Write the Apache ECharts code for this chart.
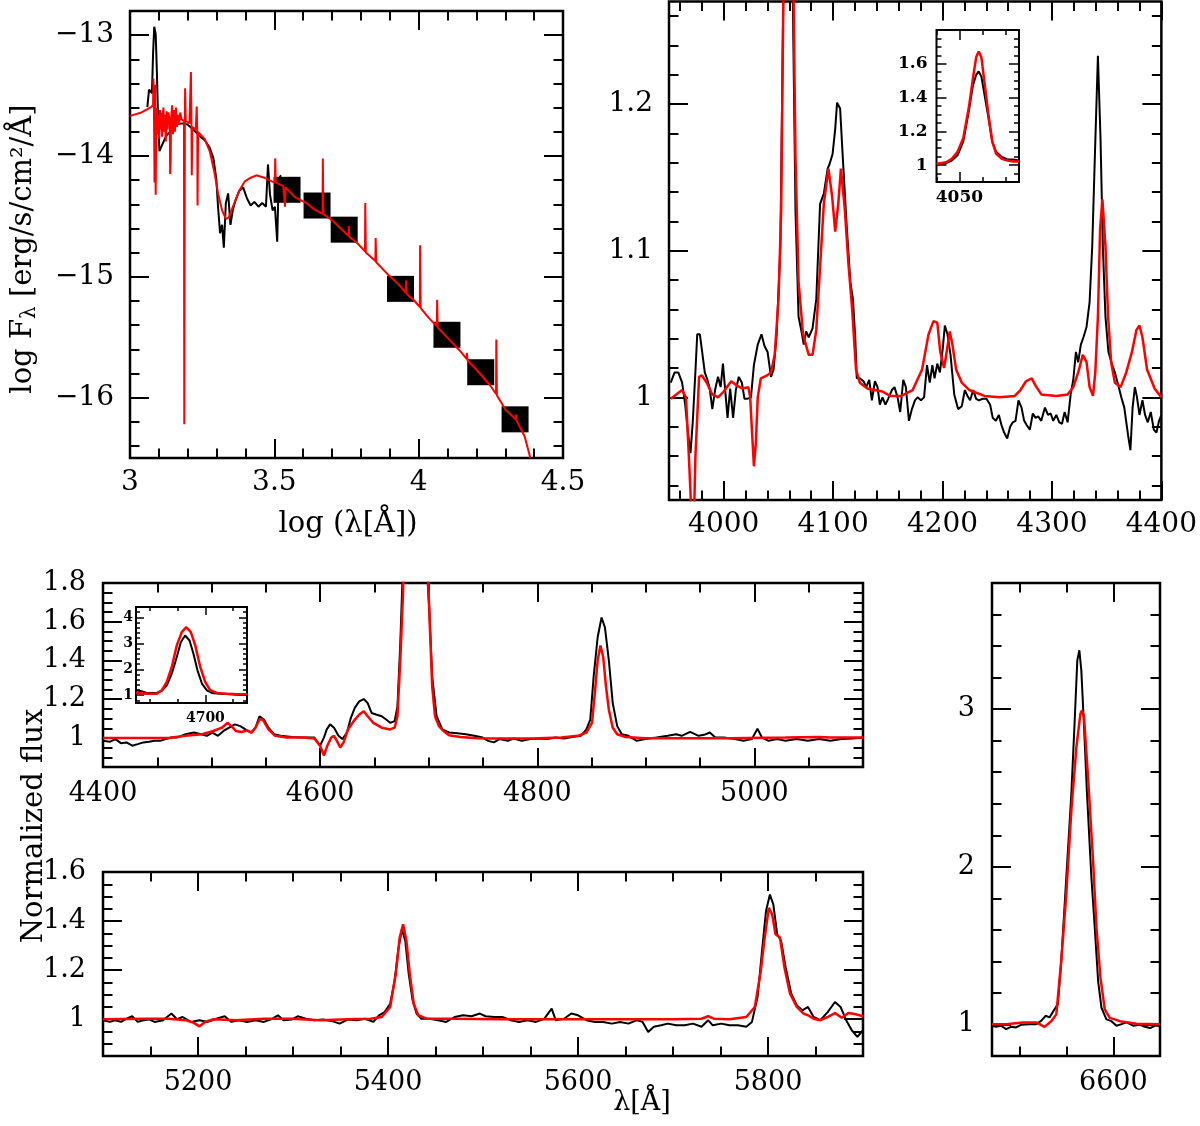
<!DOCTYPE html>
<html>
<head>
<meta charset="utf-8">
<title>SED and normalized spectra</title>
<script src="https://cdn.jsdelivr.net/npm/echarts@6/dist/echarts.min.js"></script>
<style>
  html, body { margin: 0; padding: 0; background: #fff; }
  #chart { width: 1200px; height: 1126px; }
</style>
</head>
<body>
<div id="chart"></div>
<script>
/* ---------- data ---------- */

// SED panel: log(lambda) vs log F
var sedObs = [[3.060,-13.595],[3.066,-13.45],[3.076,-13.48],[3.080,-13.145],[3.084,-12.93],[3.089,-12.99],[3.093,-13.29],[3.097,-13.67],[3.102,-13.96],[3.113,-13.90],[3.126,-13.83],[3.139,-13.80],[3.159,-13.74],[3.179,-13.73],[3.199,-13.74],[3.219,-13.78],[3.239,-13.83],[3.259,-13.87],[3.276,-13.93],[3.289,-14.02],[3.299,-14.19],[3.305,-14.42],[3.312,-14.64],[3.319,-14.57],[3.325,-14.76],[3.332,-14.39],[3.340,-14.31],[3.348,-14.57],[3.356,-14.45],[3.365,-14.37],[3.378,-14.29],[3.392,-14.26],[3.405,-14.35],[3.418,-14.41],[3.431,-14.38],[3.445,-14.42],[3.458,-14.39],[3.471,-14.42],[3.478,-14.07],[3.485,-14.32],[3.494,-14.45],[3.502,-14.42],[3.510,-14.71],[3.515,-14.19],[3.523,-14.16]];
var sedModel = [[3.000,-13.668],[3.040,-13.64],[3.073,-13.595],[3.080,-13.58],[3.081,-13.36],[3.083,-13.62],[3.085,-14.22],[3.087,-13.41],[3.089,-14.32],[3.091,-13.70],[3.094,-13.60],[3.096,-13.82],[3.099,-13.66],[3.101,-13.86],[3.104,-13.62],[3.106,-13.78],[3.109,-13.64],[3.111,-13.84],[3.113,-13.67],[3.116,-13.60],[3.118,-13.80],[3.121,-13.66],[3.124,-13.88],[3.127,-13.63],[3.130,-13.78],[3.133,-13.64],[3.138,-13.72],[3.139,-14.15],[3.141,-14.03],[3.142,-13.70],[3.146,-13.58],[3.149,-13.82],[3.153,-13.62],[3.156,-13.80],[3.159,-13.60],[3.163,-13.76],[3.166,-13.66],[3.170,-13.74],[3.174,-13.64],[3.179,-13.70],[3.187,-13.71],[3.188,-16.22],[3.190,-13.72],[3.191,-13.44],[3.193,-13.71],[3.206,-13.73],[3.210,-13.74],[3.211,-13.305],[3.213,-13.75],[3.214,-14.16],[3.216,-13.76],[3.228,-13.78],[3.231,-13.59],[3.233,-13.79],[3.234,-14.41],[3.236,-13.80],[3.259,-13.86],[3.276,-13.96],[3.292,-14.13],[3.305,-14.31],[3.319,-14.45],[3.332,-14.52],[3.342,-14.51],[3.358,-14.41],[3.378,-14.29],[3.398,-14.21],[3.418,-14.18],[3.438,-14.16],[3.465,-14.18],[3.491,-14.21],[3.502,-14.22],[3.503,-14.02],[3.505,-14.22],[3.531,-14.25],[3.536,-14.26],[3.537,-14.42],[3.539,-14.26],[3.571,-14.34],[3.611,-14.39],[3.637,-14.44],[3.667,-14.48],[3.668,-14.02],[3.670,-14.48],[3.704,-14.54],[3.743,-14.63],[3.757,-14.66],[3.758,-14.58],[3.760,-14.67],[3.783,-14.71],[3.814,-14.79],[3.815,-14.39],[3.817,-14.80],[3.850,-14.87],[3.851,-14.68],[3.853,-14.88],[3.889,-14.97],[3.929,-15.06],[3.955,-15.13],[3.956,-15.03],[3.958,-15.14],[3.982,-15.19],[4.004,-15.25],[4.005,-14.74],[4.007,-15.26],[4.035,-15.34],[4.063,-15.41],[4.064,-15.19],[4.066,-15.42],[4.102,-15.51],[4.142,-15.61],[4.166,-15.68],[4.167,-15.63],[4.169,-15.69],[4.208,-15.79],[4.248,-15.90],[4.268,-15.97],[4.269,-15.52],[4.271,-15.98],[4.301,-16.10],[4.336,-16.18],[4.337,-16.14],[4.339,-16.19],[4.367,-16.32],[4.387,-16.50]];
var sedPhot = [[3.544,-14.28],[3.648,-14.41],[3.742,-14.61],[3.937,-15.10],[4.098,-15.48],[4.215,-15.79],[4.334,-16.18]];

// 3950-4400 A panel
var blueObs = [[3951.6,1.010],[3955.1,1.017],[3958.5,1.017],[3962.0,1.010],[3964.8,0.995],[3967.2,0.977],[3969.6,0.962],[3971.7,0.983],[3974.1,1.017],[3975.8,1.043],[3978.2,1.043],[3980.3,1.031],[3982.7,1.017],[3985.1,1.012],[3987.2,1.006],[3989.6,0.992],[3992.1,1.005],[3994.8,1.014],[3997.2,1.007],[3999.3,1.023],[4001.0,1.023],[4003.5,0.986],[4005.9,1.006],[4008.6,0.986],[4011.1,1.005],[4013.8,1.014],[4016.6,1.010],[4019.0,0.999],[4021.4,0.999],[4024.9,1.000],[4027.6,1.022],[4031.1,1.036],[4034.5,1.043],[4037.3,1.035],[4040.1,1.031],[4043.2,1.014],[4045.6,1.019],[4048.4,1.043],[4051.8,1.103],[4054.6,1.28],[4057.0,1.50],[4058.7,1.555],[4061.1,1.45],[4063.2,1.27],[4065.6,1.127],[4068.4,1.055],[4070.8,1.046],[4073.2,1.036],[4075.3,1.045],[4077.7,1.041],[4081.2,1.047],[4084.6,1.067],[4088.1,1.132],[4091.5,1.139],[4095.0,1.156],[4096.7,1.159],[4099.5,1.166],[4101.9,1.183],[4103.6,1.201],[4106.4,1.197],[4108.8,1.164],[4112.3,1.118],[4115.7,1.079],[4118.1,1.067],[4120.2,1.041],[4121.6,1.013],[4124.4,1.013],[4127.8,1.011],[4130.2,1.007],[4133.0,1.012],[4135.4,0.998],[4138.2,1.011],[4140.6,1.007],[4142.7,0.995],[4145.1,1.000],[4147.8,0.995],[4150.3,0.999],[4153.7,1.005],[4156.1,1.007],[4158.9,1.000],[4161.3,0.990],[4164.1,1.012],[4166.5,1.007],[4169.3,0.984],[4172.0,0.992],[4174.8,0.998],[4177.2,1.000],[4180.3,0.998],[4183.1,1.000],[4185.8,1.022],[4188.3,1.010],[4190.7,1.022],[4192.7,1.013],[4195.2,1.023],[4197.6,1.017],[4200.3,1.034],[4202.1,1.049],[4204.5,1.043],[4207.3,1.029],[4210.7,1.002],[4214.2,0.992],[4217.6,0.994],[4220.4,1.005],[4222.8,1.001],[4225.2,0.998],[4228.0,1.005],[4230.7,0.999],[4233.2,0.998],[4236.6,0.999],[4240.1,0.999],[4243.5,0.995],[4245.9,0.986],[4248.7,0.984],[4251.5,0.988],[4253.9,0.981],[4256.3,0.976],[4259.1,0.972],[4261.8,0.980],[4264.2,0.983],[4266.7,0.984],[4269.4,0.998],[4272.2,0.993],[4274.6,0.984],[4277.0,0.981],[4279.8,0.978],[4282.5,0.989],[4285.0,0.986],[4287.4,0.987],[4290.2,0.984],[4293.6,0.993],[4296.4,0.988],[4298.8,0.989],[4301.2,0.984],[4304.0,0.988],[4306.7,0.983],[4309.2,0.982],[4311.6,0.990],[4314.3,0.983],[4317.1,1.002],[4319.5,1.012],[4321.9,1.031],[4324.0,1.024],[4326.4,1.036],[4328.8,1.041],[4331.6,1.048],[4334.4,1.065],[4336.8,1.103],[4339.2,1.164],[4342.0,1.233],[4344.4,1.176],[4346.5,1.103],[4348.9,1.055],[4351.6,1.031],[4355.1,1.022],[4357.5,1.017],[4361.0,1.007],[4363.4,1.000],[4366.1,0.993],[4369.6,0.974],[4371.7,0.964],[4373.7,0.993],[4375.8,1.007],[4377.5,1.001],[4380.0,0.988],[4382.7,0.998],[4385.1,0.988],[4387.6,0.983],[4390.3,0.990],[4393.1,0.978],[4395.5,0.976],[4397.9,0.984],[4400.0,0.988]];
var blueModel = [[3951.6,0.999],[3962.0,1.005],[3965.5,1.000],[3968.2,0.959],[3970.0,0.929],[3971.0,0.90],[3972.4,0.90],[3973.2,0.929],[3974.1,0.959],[3977.5,1.014],[3980.0,1.015],[3984.5,1.010],[3989.6,1.002],[3994.8,1.000],[4000.0,1.004],[4006.9,1.011],[4012.1,1.008],[4017.3,1.006],[4022.5,1.007],[4024.2,1.000],[4025.9,0.976],[4027.6,0.953],[4029.4,0.969],[4031.1,1.000],[4033.9,1.013],[4039.7,1.015],[4043.2,1.017],[4046.6,1.029],[4050.1,1.067],[4052.5,1.127],[4054.6,1.28],[4057.0,1.60],[4058.7,1.67],[4061.1,1.50],[4063.9,1.27],[4065.6,1.164],[4068.4,1.079],[4072.5,1.043],[4077.7,1.029],[4081.2,1.029],[4084.6,1.046],[4088.1,1.089],[4091.5,1.132],[4095.7,1.156],[4099.1,1.137],[4101.9,1.113],[4104.7,1.132],[4107.1,1.156],[4110.5,1.130],[4114.0,1.091],[4117.4,1.060],[4120.9,1.019],[4124.4,1.010],[4131.3,1.006],[4138.2,1.005],[4145.1,1.004],[4152.0,1.001],[4162.3,1.001],[4172.7,1.005],[4181.3,1.019],[4187.2,1.043],[4191.7,1.052],[4195.2,1.051],[4197.9,1.031],[4201.4,1.020],[4203.8,1.031],[4206.6,1.045],[4209.0,1.036],[4212.4,1.019],[4217.6,1.010],[4224.5,1.005],[4231.4,1.003],[4238.3,1.001],[4252.2,1.000],[4266.0,1.001],[4271.2,1.005],[4276.3,1.011],[4281.5,1.013],[4285.0,1.008],[4290.2,1.002],[4304.0,1.001],[4314.3,1.002],[4319.5,1.007],[4324.0,1.017],[4328.2,1.029],[4331.6,1.024],[4334.4,1.007],[4337.5,1.001],[4339.6,1.017],[4342.0,1.055],[4344.0,1.115],[4346.1,1.135],[4348.9,1.103],[4351.3,1.055],[4354.1,1.024],[4357.5,1.010],[4362.7,1.007],[4367.9,1.017],[4373.1,1.031],[4377.2,1.046],[4380.0,1.049],[4382.7,1.041],[4386.9,1.019],[4393.8,1.006],[4400.0,1.000]];
// inset round 4058
var nivObs = [[4040,1.006],[4044.2,1.012],[4046.7,1.027],[4049.2,1.058],[4051.7,1.141],[4054.2,1.327],[4055.9,1.472],[4057.3,1.534],[4058.4,1.555],[4059.6,1.524],[4060.9,1.420],[4062.6,1.286],[4064.3,1.141],[4066,1.079],[4068.5,1.048],[4071,1.033],[4073.5,1.033],[4076,1.027]];
var nivModel = [[4040,1.006],[4044.2,1.017],[4046.7,1.037],[4049.2,1.079],[4051.7,1.161],[4054.2,1.348],[4055.9,1.513],[4057.3,1.638],[4058.4,1.673],[4059.6,1.638],[4060.9,1.493],[4062.6,1.306],[4064.3,1.141],[4066,1.068],[4068.5,1.037],[4071,1.027],[4073.5,1.021],[4076,1.021]];

// 4400-5100 A panel
var midObs = [[4400,0.985],[4406.2,0.980],[4411.4,0.994],[4416.5,0.973],[4421.7,0.977],[4426.9,0.960],[4432.0,0.968],[4437.2,0.977],[4442.4,0.980],[4447.5,0.985],[4452.7,0.985],[4457.8,0.994],[4463.0,1.002],[4468.2,1.002],[4475.9,1.019],[4483.7,1.028],[4490.4,1.019],[4495.6,1.011],[4500.7,1.028],[4505.9,1.011],[4511.0,1.036],[4516.2,1.053],[4521.4,1.070],[4526.5,1.061],[4531.2,1.044],[4536.4,1.028],[4540.5,1.053],[4544.1,1.112],[4548.2,1.095],[4552.4,1.053],[4557.5,1.019],[4563.7,1.011],[4574.1,1.005],[4584.4,1.002],[4594.7,1.002],[4599.9,0.960],[4603.5,1.002],[4606.1,1.044],[4609.2,1.070],[4612.8,1.053],[4616.9,1.011],[4620.5,0.994],[4624.7,1.028],[4628.3,1.104],[4631.9,1.155],[4636.0,1.189],[4640.2,1.201],[4643.8,1.180],[4647.4,1.129],[4651.5,1.121],[4656.7,1.112],[4660.8,1.095],[4664.5,1.078],[4668.6,1.087],[4671.2,1.163],[4673.8,1.486],[4680,2.5],[4685,3.3],[4691,2.6],[4698,1.9],[4700.6,1.656],[4703.2,1.316],[4707.3,1.112],[4712.5,1.044],[4718.7,1.028],[4726.4,1.024],[4734.2,1.019],[4741.9,1.011],[4749.7,1.002],[4754.8,0.985],[4760.0,0.977],[4765.2,0.994],[4772.9,0.985],[4778.1,0.997],[4785.8,0.985],[4793.6,0.994],[4801.3,0.997],[4809.1,0.994],[4816.8,1.002],[4824.6,0.997],[4832.3,1.005],[4840.1,1.011],[4845.2,1.044],[4848.8,1.095],[4851.9,1.316],[4855.6,1.520],[4859.2,1.622],[4862.3,1.571],[4865.9,1.401],[4869.5,1.180],[4873.6,1.061],[4877.8,1.019],[4884.0,1.011],[4891.7,0.985],[4899.5,0.994],[4909.8,1.002],[4920.1,1.011],[4927.9,1.019],[4933.0,1.011],[4940.8,1.031],[4948.5,1.011],[4953.7,1.016],[4958.9,1.028],[4964.0,1.002],[4971.8,1.002],[4982.1,0.994],[4989.9,0.985],[4997.6,0.994],[5002.8,1.048],[5006.9,1.002],[5013.1,0.985],[5020.8,0.994],[5028.6,0.985],[5038.9,0.994],[5049.2,0.985],[5059.6,0.994],[5069.9,0.985],[5080.2,0.994],[5090.6,0.997],[5100,1.002]];
var midModel = [[4400,1.0],[4460.4,1.0],[4475.9,1.011],[4491.4,1.019],[4501.7,1.036],[4509.5,1.053],[4514.7,1.078],[4518.3,1.061],[4522.4,1.036],[4527.6,1.031],[4532.7,1.039],[4536.9,1.028],[4540.5,1.053],[4544.1,1.095],[4547.2,1.095],[4552.4,1.044],[4558.6,1.011],[4568.9,1.002],[4584.4,1.002],[4594.7,0.997],[4599.9,0.960],[4603.5,0.909],[4606.6,0.960],[4610.2,1.002],[4612.8,1.011],[4615.4,0.985],[4618.5,0.951],[4621.6,0.977],[4625.7,1.044],[4630.9,1.087],[4636.0,1.121],[4640.2,1.138],[4643.8,1.112],[4649.0,1.078],[4656.7,1.053],[4664.5,1.044],[4668.6,1.053],[4671.2,1.112],[4673.8,1.401],[4676.3,1.741],[4680,2.9],[4686,3.62],[4692,2.9],[4699.6,1.8],[4701.1,1.571],[4703.2,1.265],[4705.8,1.112],[4709.4,1.061],[4713.5,1.036],[4718.7,1.014],[4729.0,1.005],[4744.5,0.999],[4760.0,0.997],[4780.7,0.997],[4801.3,0.999],[4822.0,1.002],[4837.5,1.011],[4845.2,1.028],[4850.4,1.078],[4853.0,1.231],[4855.6,1.401],[4858.2,1.477],[4860.7,1.418],[4863.3,1.265],[4865.9,1.146],[4869.5,1.053],[4873.6,1.019],[4881.4,1.005],[4899.5,0.999],[4925.3,0.999],[4977.0,0.999],[5028.6,1.002],[5059.6,1.005],[5069.9,1.002],[5100,1.002]];
// inset round 4686
var heObs = [[4650,1.19],[4654.1,1.15],[4657.7,1.09],[4664.9,1.09],[4668.6,1.17],[4672.2,1.38],[4675.8,1.83],[4679.4,2.47],[4682.3,3.04],[4685.4,3.30],[4688.6,3.11],[4691.4,2.60],[4694.3,1.96],[4697.5,1.45],[4701.1,1.19],[4704.7,1.09],[4710.7,1.06],[4718,1.04],[4725.2,1.01],[4730,1.01]];
var heModel = [[4650,1.09],[4657.7,1.06],[4664.9,1.06],[4668.6,1.19],[4672.2,1.51],[4675.8,2.09],[4679.4,2.92],[4683,3.43],[4686.1,3.62],[4689.5,3.43],[4692.7,2.92],[4696.3,2.09],[4699.9,1.51],[4703.5,1.19],[4708.3,1.09],[4715.5,1.06],[4722.8,1.04],[4730,1.04]];

// 5100-5900 A panel
var redObs = [[5100,0.996],[5107.1,0.989],[5113.0,0.996],[5118.9,0.989],[5124.8,1.002],[5130.7,1.012],[5136.6,0.989],[5142.5,0.996],[5148.4,0.999],[5154.3,0.989],[5163.2,0.996],[5172.0,1.023],[5177.9,1.000],[5183.8,1.009],[5192.7,0.989],[5201.5,0.996],[5210.4,0.989],[5219.3,1.002],[5228.1,1.012],[5235.2,0.989],[5242.9,0.996],[5251.7,0.989],[5260.6,0.996],[5269.4,0.989],[5278.3,1.002],[5284.2,1.016],[5290.1,0.996],[5299.0,0.999],[5304.9,1.012],[5313.7,1.002],[5322.6,0.996],[5331.4,0.999],[5340.3,0.993],[5349.1,0.982],[5358.0,0.999],[5366.9,0.996],[5375.7,1.002],[5384.6,0.989],[5390.5,1.016],[5396.4,1.029],[5402.3,1.063],[5407.0,1.158],[5411.1,1.292],[5414.7,1.367],[5418.2,1.319],[5421.8,1.185],[5425.9,1.077],[5430.0,1.023],[5434.8,1.002],[5443.6,1.002],[5452.5,0.996],[5461.3,0.989],[5470.2,1.009],[5479.0,1.016],[5487.9,1.012],[5496.7,1.023],[5502.7,1.012],[5511.5,1.009],[5520.4,1.009],[5529.2,0.996],[5538.1,0.989],[5546.9,0.996],[5555.8,0.989],[5564.6,1.002],[5572.3,1.043],[5576.5,0.996],[5585.3,1.002],[5593.0,1.023],[5600.1,1.016],[5608.9,0.996],[5617.8,0.989],[5626.6,0.989],[5635.5,0.982],[5644.4,0.989],[5653.2,0.982],[5662.1,0.996],[5668.0,0.989],[5673.9,0.948],[5679.8,0.969],[5687.5,0.975],[5694.5,0.982],[5703.4,0.975],[5712.2,0.975],[5721.1,0.982],[5730.0,0.969],[5737.0,0.996],[5741.8,0.975],[5750.6,0.982],[5759.5,0.975],[5768.3,0.975],[5777.2,0.969],[5783.1,0.989],[5789.0,1.090],[5793.7,1.279],[5797.9,1.441],[5802.0,1.508],[5805.6,1.468],[5809.7,1.346],[5813.8,1.319],[5818.6,1.211],[5824.5,1.104],[5830.4,1.056],[5836.2,1.036],[5842.1,1.050],[5848.0,1.009],[5855.1,0.996],[5862.8,1.029],[5870.5,1.070],[5876.4,1.050],[5882.3,0.996],[5888.2,0.955],[5894.1,0.928],[5900,0.955]];
var redModel = [[5100,1.0],[5145.5,1.002],[5169.1,1.002],[5186.8,0.996],[5195.6,0.985],[5201.5,0.971],[5207.5,0.989],[5216.3,1.0],[5239.9,0.996],[5269.4,1.002],[5299.0,1.002],[5328.5,0.996],[5358.0,1.0],[5381.6,1.002],[5393.4,1.009],[5402.3,1.050],[5408.2,1.185],[5412.3,1.333],[5415.9,1.387],[5419.4,1.319],[5422.9,1.185],[5427.1,1.063],[5431.8,1.016],[5440.7,1.002],[5464.3,1.002],[5523.3,1.0],[5582.4,1.0],[5641.4,1.0],[5700.4,1.0],[5730.0,1.002],[5737.0,1.012],[5743.0,1.002],[5759.5,1.0],[5777.2,1.009],[5786.1,1.050],[5792.0,1.185],[5796.1,1.319],[5800.8,1.454],[5804.4,1.427],[5807.9,1.346],[5812.6,1.333],[5817.3,1.211],[5823.2,1.104],[5830.3,1.050],[5837.4,1.023],[5842.1,1.016],[5848.0,1.002],[5855.1,0.996],[5862.8,1.009],[5870.5,1.025],[5877.6,1.006],[5884.6,1.025],[5892.3,1.020],[5900,1.012]];

// H-alpha panel
var haObs = [[6470,0.992],[6474.3,0.985],[6479.7,0.992],[6485.1,0.970],[6490.4,0.985],[6495.8,0.981],[6501.2,0.998],[6510.2,1.002],[6517.3,1.002],[6522.7,1.023],[6527.4,1.055],[6531.7,1.045],[6536.0,1.087],[6540.6,1.129],[6544.2,1.403],[6549.6,1.932],[6555.0,2.462],[6558.6,2.928],[6561.4,3.309],[6563.6,3.373],[6565.7,3.246],[6568.3,2.928],[6571.8,2.462],[6576.5,1.932],[6580.1,1.614],[6583.7,1.275],[6587.3,1.106],[6592.6,1.032],[6598.0,1.021],[6603.4,0.992],[6608.8,1.002],[6614.2,1.013],[6621.3,0.992],[6628.5,0.998],[6633.9,0.985],[6639.3,0.977],[6644.6,0.992],[6650,0.992]];
var haModel = [[6470,1.002],[6485.1,1.002],[6503.0,1.013],[6517.3,1.013],[6526.3,0.985],[6533.5,1.021],[6538.9,1.064],[6544.2,1.403],[6549.6,1.826],[6555.0,2.356],[6560.4,2.758],[6564.7,2.970],[6566.5,2.992],[6568.6,2.949],[6572.9,2.568],[6578.3,2.038],[6581.9,1.614],[6586.2,1.297],[6590.8,1.096],[6596.2,1.042],[6607.0,1.021],[6624.9,1.004],[6650,1.002]];

// tick labels
var sedXLabels = [3, 3.5, 4, 4.5];
var sedYLabels = [-16, -15, -14, -13];
var blueXLabels = [4000, 4100, 4200, 4300, 4400];
var blueYLabels = [1, 1.1, 1.2];
var nivXLabels = [4050];
var nivYLabels = [1, 1.2, 1.4, 1.6];
var midXLabels = [4400, 4600, 4800, 5000];
var midYLabels = [1, 1.2, 1.4, 1.6, 1.8];
var heXLabels = [4700];
var heYLabels = [1, 2, 3, 4];
var redXLabels = [5200, 5400, 5600, 5800];
var redYLabels = [1, 1.2, 1.4, 1.6];
var haXLabels = [6600];
var haYLabels = [1, 2, 3];

/* ---------- helpers ---------- */
var FONT = 'DejaVu Serif';

// minor tick positions on a step inside [min, max]
function steps(min, max, step) {
  var out = [];
  var n0 = Math.ceil(min / step - 1e-9), n1 = Math.floor(max / step + 1e-9);
  for (var n = n0; n <= n1; n++) out.push(+(n * step).toFixed(6));
  return out;
}

function minusSign(v) { return String(v).replace('-', '\u2212'); }

var grids = [], xAxes = [], yAxes = [], series = [];

function axisSet(list, dim, gi, p, labels, major, minor) {
  var sides = dim === 'x' ? ['bottom', 'top'] : ['left', 'right'];
  var min = dim === 'x' ? p.xMin : p.yMin;
  var max = dim === 'x' ? p.xMax : p.yMax;
  var first = list.length;
  sides.forEach(function (side, s) {
    [[major, p.tick], [minor, p.tick / 2]].forEach(function (t, k) {
      var showLab = s === 0 && k === 0;
      list.push({
        type: 'value', gridIndex: gi, position: side, min: min, max: max,
        axisLine: { show: false, onZero: false },
        splitLine: { show: false },
        axisTick: { show: true, inside: true, length: t[1], customValues: t[0],
          lineStyle: { color: '#000', width: p.tickWidth } },
        axisLabel: showLab ? {
          show: true, customValues: labels, formatter: minusSign,
          showMinLabel: true, showMaxLabel: true,
          color: '#000', fontFamily: FONT, fontSize: p.font, fontWeight: p.bold ? 'bold' : 'normal',
          margin: dim === 'x' ? p.xMargin : p.yMargin
        } : { show: false }
      });
    });
  });
  return first;
}

function panel(p) {
  var gi = grids.length;
  grids.push({ left: p.left, top: p.top, width: p.width, height: p.height,
    show: true, borderColor: '#000', borderWidth: p.frame, backgroundColor: 'transparent' });
  var xi = axisSet(xAxes, 'x', gi, p, p.xLabels, p.xMajor, steps(p.xMin, p.xMax, p.xMinor));
  var yi = axisSet(yAxes, 'y', gi, p, p.yLabels, p.yMajor, steps(p.yMin, p.yMax, p.yMinor));
  return { x: xi, y: yi };
}

function line(ax, data, color, width) {
  series.push({ type: 'line', xAxisIndex: ax.x, yAxisIndex: ax.y, data: data,
    showSymbol: false, symbol: 'none', silent: true, clip: true,
    lineStyle: { color: color, width: width } });
}

/* ---------- panels ---------- */
var sedAx = panel({ left: 130, top: 11, width: 433, height: 447, frame: 2.5, tick: 19, tickWidth: 2,
  xMin: 3, xMax: 4.5, yMin: -16.5, yMax: -12.8, font: 28, xMargin: 11, yMargin: 16,
  xLabels: sedXLabels, xMajor: sedXLabels, xMinor: 0.1,
  yLabels: sedYLabels, yMajor: sedYLabels, yMinor: 0.2 });
series.push({ type: 'scatter', xAxisIndex: sedAx.x, yAxisIndex: sedAx.y, data: sedPhot,
  symbol: 'rect', symbolSize: [27, 26], silent: true, itemStyle: { color: '#000', opacity: 1 } });
line(sedAx, sedObs, '#000', 2);
line(sedAx, sedModel, '#ff0000', 2);

var blueAx = panel({ left: 669, top: 1.5, width: 499, height: 498.5, frame: 2.5, tick: 19, tickWidth: 2,
  xMin: 3950, xMax: 4400, yMin: 0.93, yMax: 1.27, font: 28, xMargin: 11, yMargin: 16,
  xLabels: blueXLabels, xMajor: blueXLabels, xMinor: 20,
  yLabels: blueYLabels, yMajor: blueYLabels, yMinor: 0.02 });
line(blueAx, blueObs, '#000', 2);
line(blueAx, blueModel, '#ff0000', 2.5);

var nivAx = panel({ left: 936.5, top: 30, width: 82.5, height: 152, frame: 2, tick: 10, tickWidth: 1.5,
  xMin: 4040, xMax: 4076, yMin: 0.9, yMax: 1.8, font: 17, bold: true, xMargin: 7, yMargin: 9,
  xLabels: nivXLabels, xMajor: nivXLabels, xMinor: 10,
  yLabels: nivYLabels, yMajor: nivYLabels, yMinor: 0.05 });
line(nivAx, nivObs, '#000', 2);
line(nivAx, nivModel, '#ff0000', 2.5);

var midAx = panel({ left: 103, top: 583, width: 760, height: 184, frame: 2.5, tick: 19, tickWidth: 2,
  xMin: 4400, xMax: 5100, yMin: 0.85, yMax: 1.8, font: 27, xMargin: 13, yMargin: 17,
  xLabels: midXLabels, xMajor: midXLabels, xMinor: 50,
  yLabels: midYLabels, yMajor: midYLabels, yMinor: 0.05 });
line(midAx, midObs, '#000', 2);
line(midAx, midModel, '#ff0000', 2.5);

var heAx = panel({ left: 136, top: 607, width: 111, height: 96, frame: 2, tick: 8, tickWidth: 1.5,
  xMin: 4650, xMax: 4730, yMin: 0.7, yMax: 4.4, font: 14, bold: true, xMargin: 8, yMargin: 3,
  xLabels: heXLabels, xMajor: heXLabels, xMinor: 20,
  yLabels: heYLabels, yMajor: heYLabels, yMinor: 0.2 });
line(heAx, heObs, '#000', 2);
line(heAx, heModel, '#ff0000', 2.5);

var redAx = panel({ left: 103, top: 872, width: 760, height: 184, frame: 2.5, tick: 19, tickWidth: 2,
  xMin: 5100, xMax: 5900, yMin: 0.85, yMax: 1.6, font: 27, xMargin: 13, yMargin: 17,
  xLabels: redXLabels, xMajor: redXLabels, xMinor: 50,
  yLabels: redYLabels, yMajor: redYLabels, yMinor: 0.05 });
line(redAx, redObs, '#000', 2);
line(redAx, redModel, '#ff0000', 2.5);

var haAx = panel({ left: 992, top: 583, width: 168, height: 473, frame: 2.5, tick: 19, tickWidth: 2,
  xMin: 6470, xMax: 6650, yMin: 0.8, yMax: 3.8, font: 27, xMargin: 13, yMargin: 17,
  xLabels: haXLabels, xMajor: haXLabels, xMinor: 50,
  yLabels: haYLabels, yMajor: haYLabels, yMinor: 0.2 });
line(haAx, haObs, '#000', 2);
line(haAx, haModel, '#ff0000', 2.5);

/* ---------- axis titles ---------- */
var graphic = [
  { type: 'text', x: 23, y: 249, rotation: Math.PI / 2,
    style: { text: '{a|log F}{b|\u03bb}{a| [erg/s/cm\u00b2/\u00c5]}', align: 'center', verticalAlign: 'middle',
      rich: { a: { fontFamily: FONT, fontSize: 29, lineHeight: 34, fill: '#000' },
              b: { fontFamily: FONT, fontSize: 20, lineHeight: 16, verticalAlign: 'bottom', fill: '#000' } } } },
  { type: 'text', x: 348, y: 524,
    style: { text: 'log (\u03bb[\u00c5])', fontFamily: FONT, fontSize: 29, fill: '#000', align: 'center', verticalAlign: 'middle' } },
  { type: 'text', x: 34, y: 826, rotation: Math.PI / 2,
    style: { text: 'Normalized flux', fontFamily: FONT, fontSize: 29, fill: '#000', align: 'center', verticalAlign: 'middle' } },
  { type: 'text', x: 642, y: 1103,
    style: { text: '\u03bb[\u00c5]', fontFamily: FONT, fontSize: 27, fill: '#000', align: 'center', verticalAlign: 'middle' } }
];

var myChart = echarts.init(document.getElementById('chart'), null, { renderer: 'canvas' });
myChart.setOption({
  backgroundColor: '#fff',
  animation: false,
  grid: grids,
  xAxis: xAxes,
  yAxis: yAxes,
  series: series,
  graphic: graphic
});
</script>
</body>
</html>
